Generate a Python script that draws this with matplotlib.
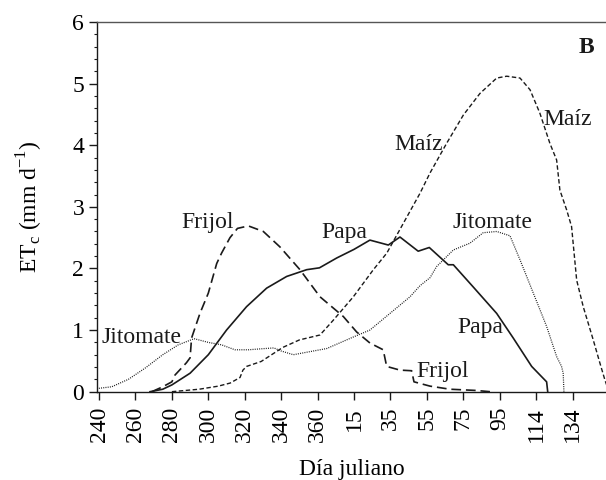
import matplotlib
matplotlib.use("Agg")
import matplotlib.pyplot as plt
from matplotlib.ticker import MultipleLocator

plt.rcParams['font.family'] = ['Liberation Serif', 'DejaVu Serif']
plt.rcParams['mathtext.fontset'] = 'custom'
plt.rcParams['mathtext.rm'] = 'Liberation Serif'
plt.rcParams['lines.scale_dashes'] = False

# x = days counted from julian day 240
tick_pos = [0, 20, 40, 60, 80, 100, 120, 140, 160, 180, 200, 220, 240, 260]
tick_labels = ['240', '260', '280', '300', '320', '340', '360',
               '15', '35', '55', '75', '95', '114', '134']

papa_x = [28, 30, 35, 40, 50, 60, 70, 81, 92, 103, 114, 121, 130.5, 140, 148.7,
          158.8, 165.2, 175.2, 181.3, 191.7, 194.5, 205.4, 218.3, 227.4, 237.5,
          241.1, 245.7, 246.3]
papa_y = [0, 0.01, 0.04, 0.11, 0.30, 0.60, 1.0, 1.38, 1.68, 1.87, 1.98, 2.01, 2.17,
          2.31, 2.46, 2.38, 2.51, 2.28, 2.34, 2.06, 2.06, 1.70, 1.27, 0.87, 0.41,
          0.30, 0.16, 0.0]

frijol_x = [29, 35, 40, 41.7, 48, 50, 50.8, 55.4, 60, 64.6, 67.3, 71.9, 76, 82,
            90.2, 99.3, 110.3, 121.3, 134.1, 141.4, 148.7, 156, 157.9, 165.2,
            171.6, 172.9, 181.7, 192.6, 207, 214.6]
frijol_y = [0, 0.08, 0.16, 0.27, 0.47, 0.55, 0.87, 1.27, 1.60, 2.08, 2.25, 2.50,
            2.65, 2.69, 2.60, 2.35, 1.98, 1.54, 1.22, 0.97, 0.79, 0.68, 0.41, 0.35,
            0.34, 0.16, 0.09, 0.04, 0.02, 0.0]

maiz_x = [40, 55, 65.5, 72, 77.4, 79, 81, 89, 101, 110, 121.3, 128.6, 139.6, 150.6,
          158, 167, 176.2, 181.7, 190.8, 200, 209.1, 218.3, 223.8, 231.1, 236.6,
          242, 247.5, 251.2, 253, 256.7, 259.4, 262.2, 265.8, 271.3, 275, 277.7, 279]
maiz_y = [0, 0.04, 0.09, 0.14, 0.23, 0.35, 0.41, 0.49, 0.72, 0.84, 0.92, 1.16, 1.54,
          1.98, 2.25, 2.73, 3.22, 3.55, 4.03, 4.49, 4.84, 5.09, 5.12, 5.09, 4.90,
          4.52, 4.03, 3.76, 3.27, 2.95, 2.68, 1.81, 1.38, 0.84, 0.46, 0.19, 0.08]

jito_x = [-1.3, 7, 16.1, 25.2, 35, 43.5, 52.2, 60, 67.3, 74.6, 82, 91, 96, 100,
          106.7, 115.8, 125, 139, 148.7, 159.7, 170.7, 176.2, 181.7, 185.3, 194.5,
          203.6, 210.9, 218.3, 225.6, 231.1, 238.4, 245.7, 251.2, 253.9, 254.8, 255.2]
jito_y = [0.05, 0.08, 0.20, 0.38, 0.60, 0.76, 0.86, 0.80, 0.76, 0.68, 0.68, 0.70,
          0.71, 0.66, 0.60, 0.65, 0.70, 0.88, 1.0, 1.27, 1.54, 1.72, 1.85, 2.03,
          2.30, 2.41, 2.58, 2.60, 2.53, 2.14, 1.60, 1.06, 0.57, 0.41, 0.30, 0.0]

ink = '#1a1a1a'

fig = plt.figure(figsize=(6.06, 4.8), dpi=100)
ax = fig.add_axes([0.1596, 0.184, 0.8404, 0.7702])

ax.plot(papa_x, papa_y, color=ink, lw=1.2, ls='-')
ax.plot(frijol_x, frijol_y, color=ink, lw=1.2, ls=(0, (7, 3.5)))
ax.plot(maiz_x, maiz_y, color=ink, lw=1.0, ls=(0, (3.2, 1.8)))
ax.plot(jito_x, jito_y, color=ink, lw=0.9, ls=(0, (0.7, 0.9)))

ax.set_xlim(-1.26, 278.3)
ax.set_ylim(0, 6)
ax.set_xticks(tick_pos)
ax.set_xticklabels(tick_labels, rotation=90, fontsize=17)
ax.yaxis.set_major_locator(MultipleLocator(1))
ax.yaxis.set_minor_locator(MultipleLocator(0.2))
ax.tick_params(axis='y', which='major', direction='out', length=6, width=1,
               labelsize=17, pad=3, color=ink)
ax.tick_params(axis='y', which='minor', direction='out', length=2.5, width=0.8,
               color=ink)
ax.tick_params(axis='x', direction='out', length=6, width=1, pad=5, color=ink)
for s in ['left', 'bottom', 'top']:
    ax.spines[s].set_linewidth(1.0)
    ax.spines[s].set_color(ink)
ax.spines['top'].set_color('#555555')
ax.spines['right'].set_visible(False)

ax.set_xlabel('Día juliano', fontsize=17, labelpad=12)
ax.set_ylabel(r'ET$_\mathrm{c}$ (mm d$^{-1}$)', fontsize=17, labelpad=20)

lab = dict(fontsize=17, ha='center', va='baseline', color=ink)
ax.text(59.5, 2.65, 'Frijol', **lab)
ax.text(134.5, 2.49, 'Papa', **lab)
ax.text(175.6, 3.93, 'Maíz', **lab)
ax.text(257.4, 4.33, 'Maíz', **lab)
ax.text(216, 2.65, 'Jitomate', **lab)
ax.text(209.1, 0.95, 'Papa', **lab)
ax.text(188.5, 0.24, 'Frijol', **lab)
ax.text(23.4, 0.79, 'Jitomate', **lab)
ax.text(267.3, 5.49, 'B', fontsize=17, ha='center', va='baseline',
        fontweight='bold', color=ink)

fig.savefig('out.png', dpi=100)
